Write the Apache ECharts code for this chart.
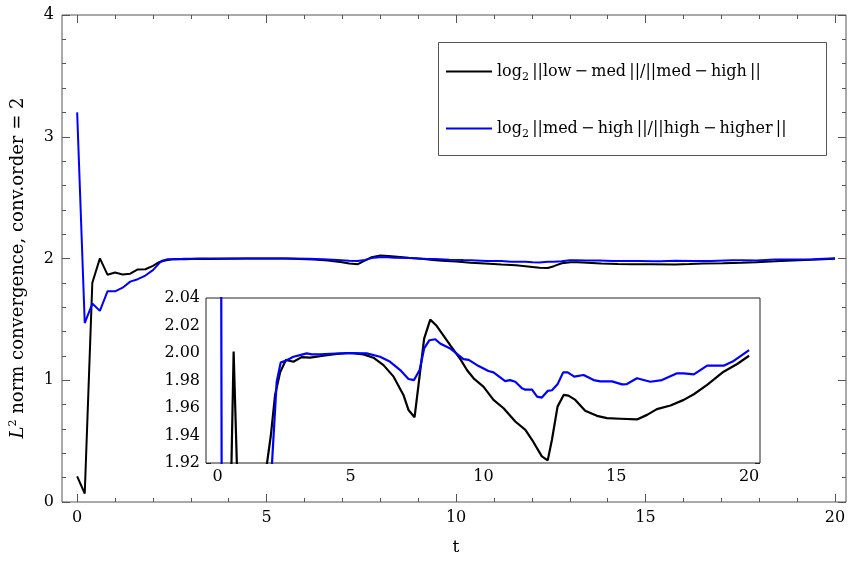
<!DOCTYPE html>
<html>
<head>
<meta charset="utf-8">
<script src="https://cdn.jsdelivr.net/npm/echarts@6/dist/echarts.min.js"></script>
<style>html,body{margin:0;padding:0;background:#fff}#c{width:849px;height:562px}</style>
</head>
<body>
<div id="c"></div>
<script>
// ---- data ----
const tBlack = [0,0.2,0.4,0.6,0.8,1.0,1.2,1.4,1.6,1.8,2.0,2.16,2.35,2.57,2.85,3.16,3.48,3.98,4.48,4.98,5.49,5.86,6.24,6.62,6.99,7.18,7.41,7.77,8.0,8.22,8.75,9.15,9.38,9.63,10.0,10.38,10.76,11.2,11.58,11.83,12.2,12.42,12.58,12.79,13.02,13.2,13.46,13.83,14.27,14.65,15.15,15.78,16.16,16.53,17.04,17.54,17.92,18.42,19.04,19.55,20.0];
const yBlack = [0.21,0.07,1.80,2.001,1.867,1.885,1.869,1.875,1.91,1.912,1.94,1.9695,1.986,1.995,1.9936,1.997,1.9966,1.998,1.9994,2.000,1.999,1.9966,1.9912,1.9828,1.9695,1.9586,1.9533,2.0105,2.0243,2.0202,2.0057,1.995,1.9876,1.9816,1.9755,1.9659,1.9598,1.9502,1.9441,1.9369,1.9248,1.9219,1.9369,1.961,1.9695,1.969,1.9659,1.958,1.9543,1.9526,1.9522,1.9517,1.955,1.9592,1.9618,1.9659,1.97,1.9768,1.9864,1.992,1.998];
const tBlue = [0,0.2,0.4,0.6,0.8,1.0,1.2,1.4,1.6,1.8,2.0,2.22,2.37,2.6,2.85,3.1,3.35,3.54,3.85,4.23,4.98,5.61,6.11,6.49,6.87,7.18,7.39,7.6,7.77,7.97,8.19,8.37,8.75,9.25,9.45,9.82,10.19,10.38,10.82,11.0,11.2,11.45,11.58,11.83,12.02,12.2,12.42,12.58,12.79,13.0,13.17,13.42,13.77,14.15,14.4,14.84,15.22,15.4,15.78,16.28,16.72,17.29,17.54,17.92,18.42,19.04,19.42,20.0];
const yBlue = [3.2,1.47,1.63,1.57,1.73,1.73,1.76,1.81,1.83,1.86,1.905,1.979,1.993,1.9948,1.9973,1.9985,1.9997,1.999,1.999,1.9994,2.0,1.9997,1.9973,1.9936,1.9876,1.9811,1.9803,1.9876,2.0033,2.0093,2.01,2.0069,2.0033,1.9956,1.995,1.9905,1.9869,1.9859,1.9796,1.9803,1.9791,1.9743,1.9733,1.9733,1.9683,1.9676,1.9724,1.9729,1.9772,1.9859,1.9859,1.9828,1.984,1.9803,1.9794,1.9794,1.9772,1.9774,1.9816,1.9791,1.9803,1.9852,1.9852,1.9845,1.9908,1.9908,1.9942,2.0021];

const seriesNames = ['black', 'blue'];
const mainXTicks = [0,5,10,15,20];
const mainYTicks = [0,1,2,3,4];
const insetXTicks = [0,5,10,15,20];
const insetYTicks = [1.92,1.94,1.96,1.98,2.00,2.02,2.04];

// ---- helpers ----
function range(a, b, step) { const r = []; for (let v = a; v <= b + 1e-9; v += step) r.push(+v.toFixed(4)); return r; }
const mainXMinor = range(0, 20, 1);
const mainYMinor = range(0, 4, 0.2);
const insetXMinor = range(0, 20, 1);
const insetYMinor = range(1.92, 2.04, 0.005);

const FONT = 'DejaVu Serif';
function axisPair(dim, gridIndex, pos, min, max, majors, minors, showLabel, opt) {
  const base = {type: 'value', gridIndex, position: pos, min, max,
    axisLine: {show: false, onZero: false}, splitLine: {show: false}, minorTick: {show: false}};
  const col = opt.color;
  const major = Object.assign({}, base, {
    axisTick: {show: true, inside: true, length: opt.major, customValues: majors, lineStyle: {color: col, width: 1}},
    axisLabel: {show: showLabel, customValues: majors, margin: opt.margin, color: '#000',
      fontFamily: FONT, fontSize: opt.fs, formatter: opt.fmt}
  });
  const minor = Object.assign({}, base, {
    axisTick: {show: true, inside: true, length: opt.minor, customValues: minors, lineStyle: {color: col, width: 1}},
    axisLabel: {show: false}
  });
  return [major, minor];
}
const mainOpt = {color: '#555', major: 8, minor: 4, margin: 8, fs: 16, fmt: v => String(Math.round(v))};
const mainOptY = Object.assign({}, mainOpt, {margin: 8});
const insOpt = {color: '#222', major: 5, minor: 3, margin: 6, fs: 16, fmt: v => String(Math.round(v))};
const insOptY = Object.assign({}, insOpt, {fmt: v => v.toFixed(2)});

const MX = [-0.4, 20.29], MY = [0, 4];
const IX = [-0.44, 20.41], IY = [1.92, 2.04];

const xAxes = [].concat(
  axisPair('x', 0, 'bottom', MX[0], MX[1], mainXTicks, mainXMinor, true, mainOpt),
  axisPair('x', 0, 'top', MX[0], MX[1], mainXTicks, mainXMinor, false, mainOpt),
  axisPair('x', 1, 'bottom', IX[0], IX[1], insetXTicks, insetXMinor, true, insOpt),
  axisPair('x', 1, 'top', IX[0], IX[1], insetXTicks, insetXMinor, false, insOpt)
);
const yAxes = [].concat(
  axisPair('y', 0, 'left', MY[0], MY[1], mainYTicks, mainYMinor, true, mainOptY),
  axisPair('y', 0, 'right', MY[0], MY[1], mainYTicks, mainYMinor, false, mainOptY),
  axisPair('y', 1, 'left', IY[0], IY[1], insetYTicks, insetYMinor, true, insOptY),
  axisPair('y', 1, 'right', IY[0], IY[1], insetYTicks, insetYMinor, false, insOptY)
);

function zip(t, y) { return t.map((v, i) => [v, y[i]]); }
const colors = {black: '#000000', blue: '#0000ff'};
const legendText = {
  black: '{n|log}{s|2}{n|\u2009||low\u2009\u2212\u2009med\u2009||/||med\u2009\u2212\u2009high\u2009||}',
  blue: '{n|log}{s|2}{n|\u2009||med\u2009\u2212\u2009high\u2009||/||high\u2009\u2212\u2009higher\u2009||}'
};
const dataMap = {black: zip(tBlack, yBlack), blue: zip(tBlue, yBlue)};

const series = [];
seriesNames.forEach(n => {
  series.push({name: n, type: 'line', xAxisIndex: 0, yAxisIndex: 0, data: dataMap[n],
    symbol: 'none', clip: true, lineStyle: {color: colors[n], width: 2}, itemStyle: {color: colors[n]}, z: 2, animation: false});
});
seriesNames.forEach(n => {
  series.push({name: n, type: 'line', xAxisIndex: 4, yAxisIndex: 4, data: dataMap[n],
    symbol: 'none', clip: true, lineStyle: {color: colors[n], width: 2.2}, itemStyle: {color: colors[n]}, z: 6, animation: false});
});

const chart = echarts.init(document.getElementById('c'), null, {renderer: 'canvas'});
chart.setOption({
  animation: false,
  backgroundColor: '#fff',
  grid: [
    {left: 62, top: 15, right: 3, bottom: 60, show: true, borderColor: '#555', borderWidth: 1, backgroundColor: 'transparent', containLabel: false},
    {left: 206, top: 298, right: 89, bottom: 99, show: true, borderColor: '#222', borderWidth: 1, backgroundColor: '#fff', z: 5, containLabel: false}
  ],
  xAxis: xAxes,
  yAxis: yAxes,
  legend: {
    data: seriesNames,
    orient: 'vertical', left: 446, top: 60, padding: 0,
    icon: 'rect', itemWidth: 46, itemHeight: 2, itemGap: 34,
    selectedMode: false,
    formatter: n => legendText[n],
    textStyle: {color: '#000', fontFamily: FONT, fontSize: 16, lineHeight: 20,
      rich: {n: {fontFamily: FONT, fontSize: 16, lineHeight: 20, color: '#000'},
             s: {fontFamily: FONT, fontSize: 11, lineHeight: 20, color: '#000', padding: [12, 0, 0, 0]}}}
  },
  graphic: [
    {type: 'rect', shape: {x: 438.5, y: 42.5, width: 388, height: 113}, style: {fill: '#fff', stroke: '#555', lineWidth: 1}, z: 1},
    {type: 'text', x: 18, y: 268, rotation: Math.PI / 2, z: 10,
      style: {text: '{i|L}{p|2}{n| norm convergence, conv.order = 2}', textAlign: 'center', textVerticalAlign: 'middle',
        rich: {i: {fontFamily: FONT, fontStyle: 'italic', fontSize: 18, fill: '#000'},
               p: {fontFamily: FONT, fontSize: 11, fill: '#000', padding: [0, 0, 10, 0]},
               n: {fontFamily: FONT, fontSize: 18, fill: '#000'}}}},
    {type: 'text', x: 456, y: 548, z: 10,
      style: {text: 't', fontFamily: FONT, fontSize: 17, fill: '#000', textAlign: 'center', textVerticalAlign: 'middle'}}
  ],
  series: series
});
</script>
</body>
</html>
